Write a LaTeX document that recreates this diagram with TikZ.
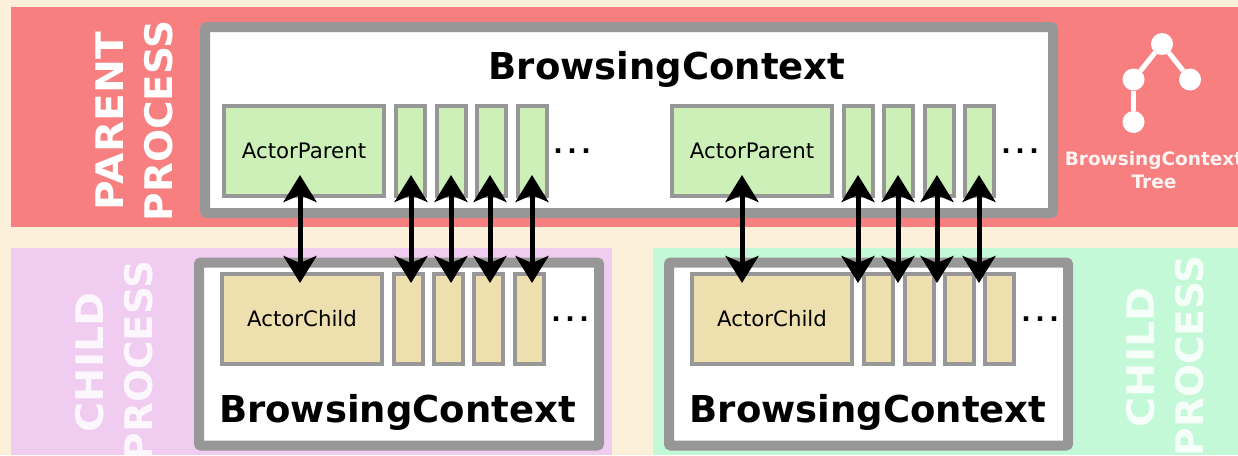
\documentclass[tikz,border=0pt]{standalone}
\usepackage{fontspec}
\setmainfont{DejaVu Sans}
\usetikzlibrary{arrows.meta}
\definecolor{paper}{HTML}{FCF0DA}
\definecolor{redpanel}{HTML}{F77F7F}
\definecolor{pinkpanel}{HTML}{EFCCF0}
\definecolor{mintpanel}{HTML}{C4F9D8}
\definecolor{boxgrey}{HTML}{979797}
\definecolor{greenfill}{HTML}{CDF0B8}
\definecolor{tanfill}{HTML}{EEE0AE}
\newcommand{\threedots}{.\hspace{4.5pt}.\hspace{4.5pt}.}
\tikzset{
  ctxbox/.style={draw=boxgrey,line width=10pt,fill=white,rounded corners=2pt,inner sep=0pt,outer sep=0pt},
  greenbox/.style={draw=boxgrey,line width=4pt,fill=greenfill,inner sep=0pt,outer sep=0pt,minimum height=90pt,font=\fontsize{21.3}{24}\selectfont},
  tanbox/.style={draw=boxgrey,line width=4pt,fill=tanfill,inner sep=0pt,outer sep=0pt,minimum height=90pt,font=\fontsize{21.3}{24}\selectfont},
  bigslot/.style={minimum width=160pt},
  slot/.style={minimum width=29pt},
  ctxtitle/.style={font=\bfseries\fontsize{37}{40}\selectfont,inner sep=0pt},
  dotsl/.style={font=\bfseries\fontsize{25}{28}\selectfont,inner sep=0pt,anchor=base},
  proc/.style={font=\bfseries\fontsize{38}{44}\selectfont,inner sep=0pt,rotate=90,anchor=base east,text=white},
  procsoft/.style={proc,opacity=.85},
  link/.style={line width=5pt,{Stealth[length=27pt,width=33pt,inset=7pt]}-{Stealth[length=27pt,width=33pt,inset=7pt]}},
  treedot/.style={circle,fill=white,minimum size=22pt,inner sep=0pt,outer sep=0pt},
  treeedge/.style={draw=white,line width=5pt},
  treelabel/.style={font=\bfseries\fontsize{18.5}{23}\selectfont,align=center,text=white,opacity=.92,inner sep=0pt}
}
\begin{document}
\begin{tikzpicture}[x=1pt,y=-1pt]
\useasboundingbox (0,0) rectangle (1238,455);
\clip (0,0) rectangle (1238,455);
\fill[paper] (0,0) rectangle (1238,455);
% panels
\fill[redpanel] (11,7) rectangle (1238,227);
\fill[pinkpanel] (11,248) rectangle (612,455);
\fill[mintpanel] (653,248) rectangle (1238,455);
% context boxes
\node[ctxbox,minimum width=848pt,minimum height=186pt] (pbox) at (629,120) {};
\node[ctxbox,minimum width=400pt,minimum height=183pt] (cbox1) at (399,354) {};
\node[ctxbox,minimum width=399pt,minimum height=183pt] (cbox2) at (868.5,354) {};
% titles
\node[ctxtitle] (ptitle) at (667,69.5) {BrowsingContext};
\node[ctxtitle] (ctitle1) at (397.5,412.5) {BrowsingContext};
\node[ctxtitle] (ctitle2) at (868,412.5) {BrowsingContext};
% parent slots
\node[greenbox,bigslot] (ap1) at (304,150.5) {ActorParent};
\node[greenbox,slot] (p1a) at (410.5,150.5) {};
\node[greenbox,slot] (p1b) at (451,150.5) {};
\node[greenbox,slot] (p1c) at (491.5,150.5) {};
\node[greenbox,slot] (p1d) at (532,150.5) {};
\node[dotsl] (pd1) at (572,153) {\threedots};
\node[greenbox,bigslot] (ap2) at (752,150.5) {ActorParent};
\node[greenbox,slot] (p2a) at (858.5,150.5) {};
\node[greenbox,slot] (p2b) at (898.5,150.5) {};
\node[greenbox,slot] (p2c) at (939.5,150.5) {};
\node[greenbox,slot] (p2d) at (979.5,150.5) {};
\node[dotsl] (pd2) at (1020,153) {\threedots};
% child slots
\node[tanbox,bigslot] (ac1) at (302,319) {ActorChild};
\node[tanbox,slot] (c1a) at (408,319) {};
\node[tanbox,slot] (c1b) at (448.5,319) {};
\node[tanbox,slot] (c1c) at (488.5,319) {};
\node[tanbox,slot] (c1d) at (529.5,319) {};
\node[dotsl] (cd1) at (570,321.5) {\threedots};
\node[tanbox,bigslot] (ac2) at (772,319) {ActorChild};
\node[tanbox,slot] (c2a) at (878,319) {};
\node[tanbox,slot] (c2b) at (919,319) {};
\node[tanbox,slot] (c2c) at (959,319) {};
\node[tanbox,slot] (c2d) at (999,319) {};
\node[dotsl] (cd2) at (1040,321.5) {\threedots};
% links
\draw[link] ([xshift=-4pt,yshift=20.5pt]ap1.south) -- ([xshift=-2pt,yshift=-9pt]ac1.north);
\draw[link] ([xshift=.5pt,yshift=20.5pt]p1a.south) -- ([xshift=3pt,yshift=-9pt]c1a.north);
\draw[link] ([xshift=0pt,yshift=20.5pt]p1b.south) -- ([xshift=2.5pt,yshift=-9pt]c1b.north);
\draw[link] ([xshift=-1.5pt,yshift=20.5pt]p1c.south) -- ([xshift=1.5pt,yshift=-9pt]c1c.north);
\draw[link] ([xshift=0pt,yshift=20.5pt]p1d.south) -- ([xshift=2.5pt,yshift=-9pt]c1d.north);
\draw[link] ([xshift=-10pt,yshift=20.5pt]ap2.south) -- ([xshift=-30pt,yshift=-9pt]ac2.north);
\draw[link] ([xshift=-.5pt,yshift=20.5pt]p2a.south) -- ([xshift=-20pt,yshift=-9pt]c2a.north);
\draw[link] ([xshift=-.5pt,yshift=20.5pt]p2b.south) -- ([xshift=-21pt,yshift=-9pt]c2b.north);
\draw[link] ([xshift=-2.5pt,yshift=20.5pt]p2c.south) -- ([xshift=-22pt,yshift=-9pt]c2c.north);
\draw[link] ([xshift=-.5pt,yshift=20.5pt]p2d.south) -- ([xshift=-20pt,yshift=-9pt]c2d.north);
% side labels
\node[proc] (lp1) at (123,32) {\scalebox{1.068}[1]{PARENT}};
\node[proc] (lp2) at (172,20) {\scalebox{1.025}[1]{PROCESS}};
\node[procsoft] (lc1) at (103,292) {\scalebox{1.08}[1]{CHILD}};
\node[procsoft] (lc2) at (152,260) {\scalebox{1.025}[1]{PROCESS}};
\node[procsoft] (lc3) at (1154,287) {\scalebox{1.08}[1]{CHILD}};
\node[procsoft] (lc4) at (1203,255) {\scalebox{1.025}[1]{PROCESS}};
% tree
\node[treedot] (t0) at (1162,44) {};
\node[treedot] (t1) at (1133.5,79.5) {};
\node[treedot] (t2) at (1190,79.5) {};
\node[treedot] (t3) at (1133.5,122) {};
\draw[treeedge] (t0) -- (t1);
\draw[treeedge] (t0) -- (t2);
\draw[treeedge] (t1) -- (t3);
\node[treelabel] (tl) at (1154,170) {BrowsingContext\\Tree};
\end{tikzpicture}
\end{document}
